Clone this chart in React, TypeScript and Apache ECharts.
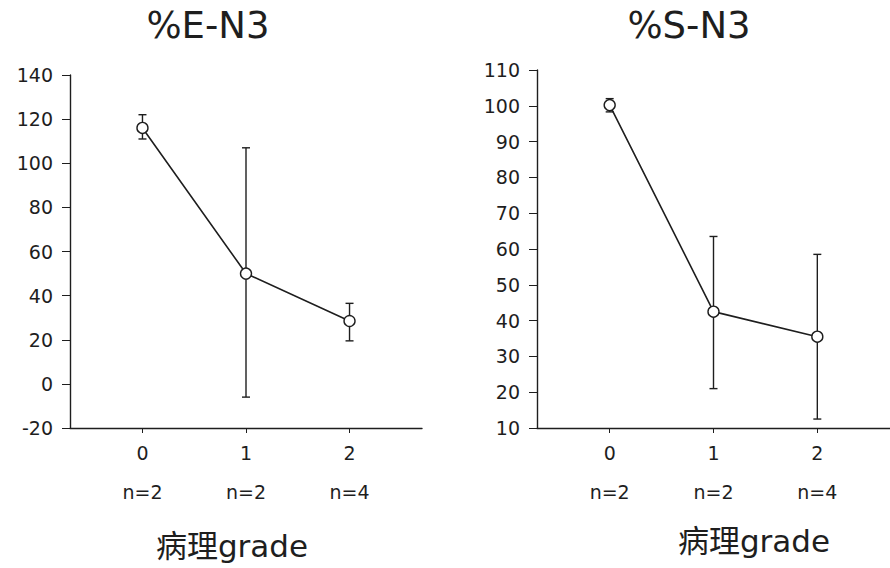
import React, { useEffect, useRef } from "react";
import * as echarts from "echarts";

const categories = [0, 1, 2];
const nLabels = ["n=2", "n=2", "n=4"];

const eMean = [116, 50, 28.5];
const eLow = [111, -6, 19.5];
const eHigh = [122, 107, 36.5];

const sMean = [100.2, 42.5, 35.5];
const sLow = [98.3, 21, 12.5];
const sHigh = [102, 63.5, 58.5];

const eTicks = { min: -20, max: 140, interval: 20 };
const sTicks = { min: 10, max: 110, interval: 10 };

const INK = "#1e1e1e";
const FONT = "'DejaVu Sans', 'Liberation Sans', 'Noto Sans CJK SC', sans-serif";

function errRender(params: any, api: any) {
  const x = api.value(0);
  const lo = api.coord([x, api.value(1)]);
  const hi = api.coord([x, api.value(2)]);
  const w = 4;
  const st = { stroke: INK, lineWidth: 1.4 };
  return {
    type: "group",
    children: [
      { type: "line", shape: { x1: lo[0], y1: lo[1], x2: hi[0], y2: hi[1] }, style: st },
      { type: "line", shape: { x1: lo[0] - w, y1: lo[1], x2: lo[0] + w, y2: lo[1] }, style: st },
      { type: "line", shape: { x1: hi[0] - w, y1: hi[1], x2: hi[0] + w, y2: hi[1] }, style: st },
    ],
  };
}

function xAxisFor(gridIndex: number) {
  return {
    type: "value",
    gridIndex,
    min: -0.7,
    max: 2.7,
    splitLine: { show: false },
    axisLine: { show: true, onZero: false, lineStyle: { color: INK, width: 1.4 } },
    axisTick: { show: true, customValues: categories, length: 5, lineStyle: { color: INK } },
    axisLabel: {
      show: true,
      customValues: categories,
      margin: 6,
      formatter: (v: number) => `{a|${v}}\n{b|${nLabels[Math.round(v)]}}`,
      rich: {
        a: { fontSize: 19, lineHeight: 38, color: INK, fontFamily: FONT },
        b: { fontSize: 19, lineHeight: 40, color: INK, fontFamily: FONT },
      },
    },
  };
}

function yAxisFor(gridIndex: number, t: { min: number; max: number; interval: number }, margin: number) {
  return {
    type: "value",
    gridIndex,
    min: t.min,
    max: t.max,
    interval: t.interval,
    splitLine: { show: false },
    axisLine: { show: true, onZero: false, lineStyle: { color: INK, width: 1.4 } },
    axisTick: { show: true, length: 8, lineStyle: { color: INK } },
    axisLabel: { margin, fontSize: 19, color: INK, fontFamily: FONT },
  };
}

function lineSeries(idx: number, mean: number[]) {
  return {
    type: "line",
    xAxisIndex: idx,
    yAxisIndex: idx,
    z: 5,
    data: categories.map((c, i) => [c, mean[i]]),
    symbol: "circle",
    symbolSize: 11,
    lineStyle: { color: INK, width: 1.6 },
    itemStyle: { color: "#fff", borderColor: INK, borderWidth: 1.4 },
  };
}

function errSeries(idx: number, lo: number[], hi: number[]) {
  return {
    type: "custom",
    xAxisIndex: idx,
    yAxisIndex: idx,
    z: 3,
    data: categories.map((c, i) => [c, lo[i], hi[i]]),
    encode: { x: 0, y: [1, 2] },
    renderItem: errRender,
  };
}

export default function App() {
  const ref = useRef<HTMLDivElement>(null);
  useEffect(() => {
    if (!ref.current) return;
    const chart = echarts.init(ref.current, undefined, { renderer: "svg" });
    chart.setOption({
      animation: false,
      backgroundColor: "#fff",
      grid: [
        { left: 70, top: 75, width: 352, height: 353 },
        { left: 537, top: 70, width: 353, height: 358 },
      ],
      xAxis: [xAxisFor(0), xAxisFor(1)],
      yAxis: [yAxisFor(0, eTicks, 17), yAxisFor(1, sTicks, 17)],
      series: [
        errSeries(0, eLow, eHigh),
        lineSeries(0, eMean),
        errSeries(1, sLow, sHigh),
        lineSeries(1, sMean),
      ],
      graphic: [
        { type: "text", x: 208, y: 25, style: { text: "%E-N3", fontSize: 37, fontFamily: FONT, fill: INK, align: "center", verticalAlign: "middle" } },
        { type: "text", x: 689, y: 25, style: { text: "%S-N3", fontSize: 37, fontFamily: FONT, fill: INK, align: "center", verticalAlign: "middle" } },
        { type: "text", x: 232, y: 546, style: { text: "病理grade", fontSize: 31, fontFamily: FONT, fill: INK, align: "center", verticalAlign: "middle" } },
        { type: "text", x: 754, y: 541, style: { text: "病理grade", fontSize: 31, fontFamily: FONT, fill: INK, align: "center", verticalAlign: "middle" } },
      ],
    });
    return () => chart.dispose();
  }, []);
  return <div ref={ref} style={{ position: "fixed", left: 0, top: 0, width: 890, height: 568 }} />;
}
